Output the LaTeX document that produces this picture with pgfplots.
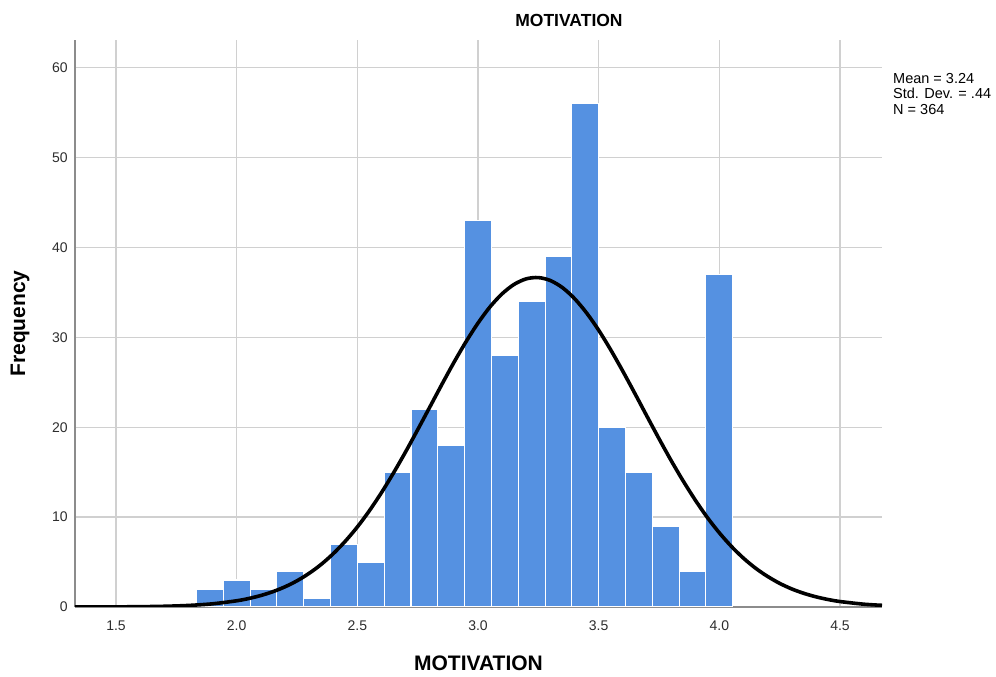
\documentclass[border=0pt]{standalone}
\usepackage{fontspec}
\setmainfont{Liberation Sans}
\usepackage{pgfplots}
\pgfplotsset{compat=1.18}
\definecolor{barblue}{RGB}{85,145,225}
\definecolor{gridgray}{RGB}{208,208,208}
\definecolor{axisgray}{RGB}{140,140,140}
\definecolor{ticktext}{RGB}{45,45,45}
\begin{document}
\begin{tikzpicture}
\useasboundingbox (-75pt,-70pt) rectangle (921pt,607pt);
\begin{axis}[
  at={(0pt,0pt)}, anchor=south west,
  scale only axis, width=807pt, height=567pt,
  xmin=1.33, xmax=4.674, ymin=0, ymax=63.1,
  axis lines=left,
  axis line style={-, axisgray, line width=1.6pt},
  xtick={1.5,2.0,2.5,3.0,3.5,4.0,4.5},
  ytick={0,10,20,30,40,50,60},
  grid=major,
  major grid style={gridgray, line width=1.3pt},
  major tick length=0pt,
  /pgf/number format/assume math mode=true,
  tick label style={font=\fontsize{14}{14}\selectfont, text=ticktext},
  xticklabel style={/pgf/number format/.cd, fixed, fixed zerofill, precision=1, /tikz/.cd, yshift=-10pt},
  yticklabel style={xshift=-3.7pt},
  xlabel={MOTIVATION},
  xlabel style={at={(axis description cs:0.5,-0.0988)}, anchor=center, font=\fontsize{21}{21}\selectfont\bfseries},
  ylabel={Frequency},
  ylabel style={at={(axis description cs:-0.0682,0.5)}, anchor=center, rotate=0, font=\fontsize{21}{21}\selectfont\bfseries},
  title={MOTIVATION},
  title style={at={(axis description cs:0.6121,1.0233)}, anchor=center, font=\fontsize{17.5}{17.5}\selectfont\bfseries},
  clip=true,
]
\addplot[ybar, bar width=0.1111, bar shift=0pt, fill=barblue, draw=white, line width=1.1pt] coordinates {
(1.8889,2) (2.0,3) (2.1111,2) (2.2222,4) (2.3333,1) (2.4444,7) (2.5556,5)
(2.6667,15) (2.7778,22) (2.8889,18) (3.0,43) (3.1111,28) (3.2222,34)
(3.3333,39) (3.4444,56) (3.5556,20) (3.6667,15) (3.7778,9) (3.8889,4) (4.0,37)
};
\addplot[black, line width=3.6pt, smooth] coordinates {
(1.33,0.003) (1.4,0.006) (1.5,0.0147) (1.6,0.035) (1.7,0.080) (1.8,0.173) (1.9,0.355)
(2.0,0.692) (2.05,0.946) (2.1,1.279) (2.15,1.705) (2.2,2.246) (2.25,2.918)
(2.3,3.744) (2.35,4.74) (2.4,5.93) (2.45,7.32) (2.5,8.91) (2.55,10.72)
(2.6,12.73) (2.65,14.93) (2.7,17.27) (2.75,19.73) (2.8,22.24) (2.85,24.76)
(2.9,27.21) (2.95,29.51) (3.0,31.60) (3.05,33.41) (3.1,34.86) (3.15,35.91)
(3.2,36.52) (3.25,36.66) (3.3,36.33) (3.35,35.54) (3.4,34.32) (3.45,32.72)
(3.5,30.80) (3.55,28.61) (3.6,26.24) (3.65,23.76) (3.7,21.23) (3.75,18.73)
(3.8,16.31) (3.85,14.03) (3.9,11.91) (3.95,9.97) (4.0,8.25) (4.05,6.74)
(4.1,5.43) (4.15,4.32) (4.2,3.40) (4.25,2.63) (4.3,2.01) (4.35,1.521)
(4.4,1.135) (4.45,0.836) (4.5,0.608) (4.6,0.309) (4.674,0.186)
};
\end{axis}
\node[anchor=north west, align=left, inner sep=0pt, font=\fontsize{14.5}{15.5}\selectfont] at (818pt,534pt) {Mean = 3.24\\Std. Dev. = .44\\N = 364};
\end{tikzpicture}
\end{document}
